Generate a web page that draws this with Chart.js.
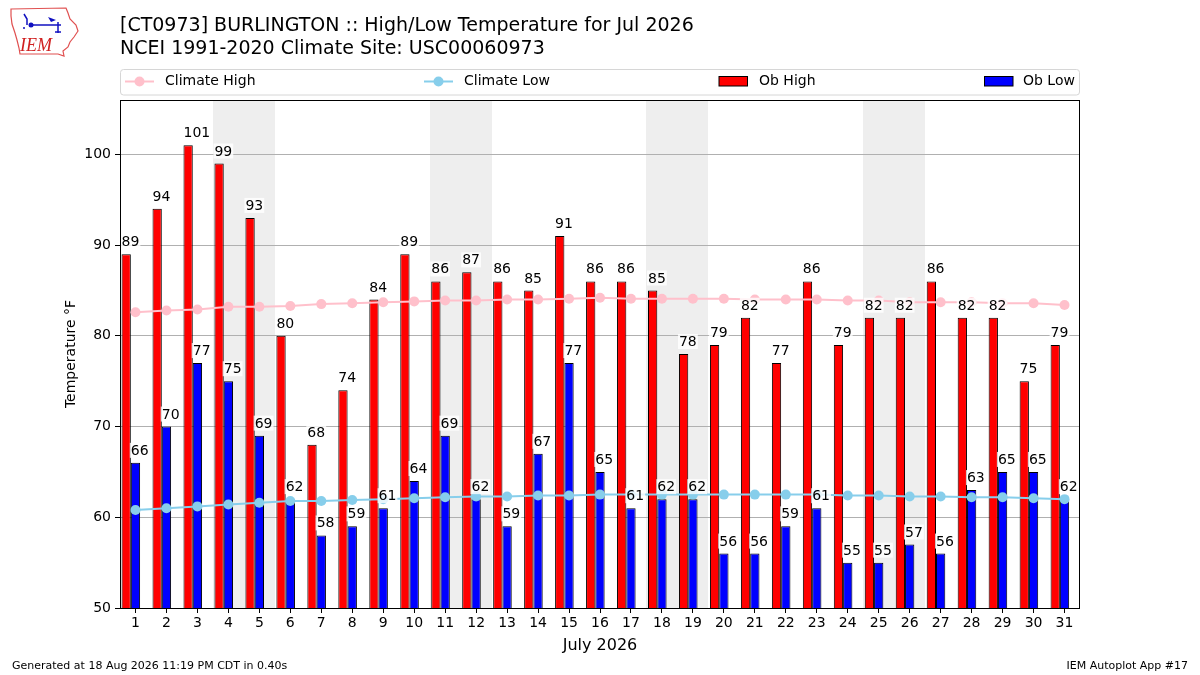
<!DOCTYPE html>
<html>
<head>
<meta charset="utf-8">
<script src="https://cdn.jsdelivr.net/npm/chart.js@4.4.1/dist/chart.umd.min.js"></script>
<style>
html,body{margin:0;padding:0;background:#fff;}
#wrap{width:1200px;height:675px;position:relative;}
</style>
</head>
<body>
<div id="wrap"><canvas id="c" width="1200" height="675"></canvas></div>
<script>
const days = ["1","2","3","4","5","6","7","8","9","10","11","12","13","14","15","16","17","18","19","20","21","22","23","24","25","26","27","28","29","30","31"];
const obHigh = [89,94,101,99,93,80,68,74,84,89,86,87,86,85,91,86,86,85,78,79,82,77,86,79,82,82,86,82,82,75,79];
const obLow = [66,70,77,75,69,62,58,59,61,64,69,62,59,67,77,65,61,62,62,56,56,59,61,55,55,57,56,63,65,65,62];
const climateHigh = [82.6,82.8,82.9,83.2,83.2,83.3,83.5,83.6,83.7,83.8,83.9,83.9,84.0,84.0,84.1,84.2,84.1,84.1,84.1,84.1,84.0,84.0,84.0,83.9,83.9,83.7,83.7,83.7,83.6,83.6,83.4];
const climateLow = [60.8,61.0,61.2,61.4,61.6,61.8,61.8,61.9,62.0,62.1,62.2,62.3,62.3,62.4,62.4,62.5,62.5,62.5,62.5,62.5,62.5,62.5,62.5,62.4,62.4,62.3,62.3,62.2,62.2,62.1,62.0];
const weekends = [[4,5],[11,12],[18,19],[25,26]];
const yTicks = [50,60,70,80,90,100];
const titleLines = ["[CT0973] BURLINGTON :: High/Low Temperature for Jul 2026","NCEI 1991-2020 Climate Site: USC00060973"];
const xTitle = "July 2026";
const yTitle = "Temperature °F";
const footerLeft = "Generated at 18 Aug 2026 11:19 PM CDT in 0.40s";
const footerRight = "IEM Autoplot App #17";

const FONT = "'DejaVu Sans', sans-serif";

const decor = {
  id: 'decor',
  beforeDraw(chart) {
    const ctx = chart.ctx, a = chart.chartArea, xs = chart.scales.x;
    ctx.save();
    ctx.fillStyle = '#fff';
    ctx.fillRect(0,0,chart.width,chart.height);
    const w = xs.getPixelForValue(1) - xs.getPixelForValue(0);
    ctx.fillStyle = '#eeeeee';
    weekends.forEach(([d0, d1]) => {
      const x0 = Math.round(xs.getPixelForValue(d0-1) - w/2);
      const x1 = Math.round(xs.getPixelForValue(d1-1) + w/2);
      ctx.fillRect(x0, a.top, x1 - x0, a.bottom - a.top);
    });
    ctx.restore();
  },
  afterDatasetsDraw(chart) {
    const ctx = chart.ctx;
    ctx.save();
    ctx.font = "14px " + FONT;
    ctx.textAlign = 'left';
    ctx.textBaseline = 'alphabetic';
    [0,1].forEach(di => {
      const meta = chart.getDatasetMeta(di);
      const vals = chart.data.datasets[di].data;
      meta.data.forEach((bar, j) => {
        const t = String(vals[j]);
        const tw = ctx.measureText(t).width;
        const lx = bar.x - bar.width/2;
        const by = bar.y - 8;
        ctx.fillStyle = 'rgba(255,255,255,0.8)';
        ctx.fillRect(lx - 1, by - 12, tw + 2, 15);
        ctx.fillStyle = '#000';
        ctx.fillText(t, lx, by);
      });
    });
    ctx.restore();
  },
  afterDraw(chart) {
    const ctx = chart.ctx, a = chart.chartArea;
    ctx.save();
    ctx.strokeStyle = '#000';
    ctx.lineWidth = 1;
    ctx.strokeRect(a.left + 0.5, a.top + 0.5, a.right - a.left - 1, a.bottom - a.top);
    ctx.fillStyle = '#000';
    ctx.textAlign = 'left';
    ctx.textBaseline = 'alphabetic';
    ctx.font = "19px " + FONT;
    ctx.fillText(titleLines[0], 120, 31);
    ctx.fillText(titleLines[1], 120, 54);
    ctx.font = "16px " + FONT;
    ctx.textAlign = 'center';
    ctx.fillText(xTitle, (a.left + a.right)/2, 650);
    ctx.save();
    ctx.translate(75, (a.top + a.bottom)/2);
    ctx.rotate(-Math.PI/2);
    ctx.font = "14px " + FONT;
    ctx.fillText(yTitle, 0, 0);
    ctx.restore();
    ctx.font = "11px " + FONT;
    ctx.textAlign = 'left';
    ctx.fillText(footerLeft, 12, 669);
    ctx.textAlign = 'right';
    ctx.fillText(footerRight, 1188, 669);
    // legend
    const lx = 120.5, ly = 69.5, lw = 959, lh = 25.5;
    ctx.beginPath();
    if (ctx.roundRect) ctx.roundRect(lx, ly, lw, lh, 3); else ctx.rect(lx, ly, lw, lh);
    ctx.fillStyle = 'rgba(255,255,255,0.8)';
    ctx.fill();
    ctx.strokeStyle = '#d6d6d6';
    ctx.stroke();
    const ds = chart.data.datasets;
    const cy = 81.5;
    const items = [
      {type:'line', x:125, tx:165, d:ds[3]},
      {type:'line', x:424, tx:464, d:ds[4]},
      {type:'box', x:719, tx:759, d:ds[0]},
      {type:'box', x:984.5, tx:1023, d:ds[1]}
    ];
    ctx.font = "14px " + FONT;
    ctx.textAlign = 'left';
    ctx.textBaseline = 'middle';
    items.forEach(it => {
      if (it.type === 'line') {
        ctx.strokeStyle = it.d.borderColor;
        ctx.lineWidth = 2;
        ctx.beginPath(); ctx.moveTo(it.x, cy); ctx.lineTo(it.x + 29, cy); ctx.stroke();
        ctx.fillStyle = it.d.borderColor;
        ctx.beginPath(); ctx.arc(it.x + 14.5, cy, 5, 0, Math.PI*2); ctx.fill();
      } else {
        ctx.fillStyle = it.d.backgroundColor;
        ctx.fillRect(it.x, 76.5, 28.5, 9.5);
        ctx.strokeStyle = '#000';
        ctx.lineWidth = 1;
        ctx.strokeRect(it.x, 76.5, 28.5, 9.5);
      }
      ctx.fillStyle = '#000';
      ctx.fillText(it.d.label, it.tx, cy);
    });
    // logo
    ctx.strokeStyle = '#e05050';
    ctx.lineWidth = 1.2;
    ctx.beginPath();
    ctx.moveTo(11,9); ctx.lineTo(66,8); ctx.lineTo(68,13); ctx.lineTo(70,19);
    ctx.lineTo(76,25); ctx.lineTo(78,31); ctx.lineTo(74,37); ctx.lineTo(70,42);
    ctx.lineTo(68,47); ctx.lineTo(63,51); ctx.lineTo(64,56); ctx.lineTo(58,54);
    ctx.lineTo(20,54); ctx.lineTo(19,48); ctx.lineTo(17,40); ctx.lineTo(15,33);
    ctx.lineTo(12,24); ctx.lineTo(11,16); ctx.closePath();
    ctx.stroke();
    ctx.strokeStyle = '#1010c0';
    ctx.fillStyle = '#1010c0';
    ctx.lineWidth = 1.5;
    ctx.beginPath(); ctx.moveTo(31,25); ctx.lineTo(61,25); ctx.stroke();
    ctx.beginPath(); ctx.moveTo(24,14); ctx.lineTo(27,19); ctx.lineTo(27,25); ctx.stroke();
    ctx.beginPath(); ctx.arc(31,25,2.5,0,Math.PI*2); ctx.fill();
    ctx.beginPath(); ctx.moveTo(48,17); ctx.lineTo(56,20); ctx.lineTo(51,22); ctx.closePath(); ctx.fill();
    ctx.beginPath(); ctx.moveTo(58,22); ctx.lineTo(58,33); ctx.stroke();
    ctx.beginPath(); ctx.moveTo(55,32); ctx.lineTo(61,32); ctx.stroke();
    ctx.beginPath(); ctx.arc(24,28,1,0,Math.PI*2); ctx.fill();
    ctx.fillStyle = '#d02020';
    ctx.font = "italic 18px 'Liberation Serif', serif";
    ctx.textAlign = 'left';
    ctx.textBaseline = 'alphabetic';
    ctx.fillText("IEM", 20, 51);
    ctx.restore();
  }
};

const barCommon = {type:'bar', borderColor:'#000', borderWidth:1, borderSkipped:'start', categoryPercentage:0.9, barPercentage:1.0, order:2};

new Chart(document.getElementById('c'), {
  data: {
    labels: days,
    datasets: [
      Object.assign({label:'Ob High', data: obHigh, backgroundColor:'#ff0000'}, barCommon),
      Object.assign({label:'Ob Low', data: obLow, backgroundColor:'#0000ff'}, barCommon),
      Object.assign({label:'', data: days.map(() => null), backgroundColor:'rgba(0,0,0,0)'}, barCommon, {borderWidth:0}),
      {type:'line', label:'Climate High', data: climateHigh, borderColor:'#ffc0cb', backgroundColor:'#ffc0cb', borderWidth:2, pointRadius:5, pointBackgroundColor:'#ffc0cb', pointBorderWidth:0, tension:0, order:1},
      {type:'line', label:'Climate Low', data: climateLow, borderColor:'#87ceeb', backgroundColor:'#87ceeb', borderWidth:2, pointRadius:5, pointBackgroundColor:'#87ceeb', pointBorderWidth:0, tension:0, order:1}
    ]
  },
  options: {
    responsive:false,
    animation:false,
    devicePixelRatio:1,
    events:[],
    layout:{padding:{left:0, top:100, right:120, bottom:0}},
    plugins:{legend:{display:false}, title:{display:false}, tooltip:{enabled:false}},
    scales:{
      x:{
        type:'category',
        offset:true,
        grid:{display:true, drawOnChartArea:false, drawTicks:true, tickLength:5, tickColor:'#000', offset:false},
        border:{display:false},
        ticks:{color:'#000', font:{family:FONT, size:14}, padding:2, maxRotation:0, autoSkip:false},
        afterFit(s){ s.height = 67; }
      },
      y:{
        min:50, max:106,
        grid:{color:'#b0b0b0', lineWidth:1, drawTicks:true, tickLength:5, tickColor:'#000'},
        border:{display:false},
        ticks:{color:'#000', font:{family:FONT, size:14}, padding:4},
        afterBuildTicks(s){ s.ticks = yTicks.map(v => ({value:v})); },
        afterFit(s){ s.width = 120; }
      }
    }
  },
  plugins:[decor]
});
</script>
</body>
</html>
